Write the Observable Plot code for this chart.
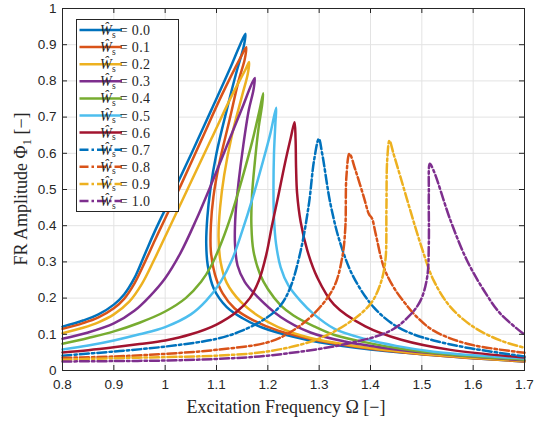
<!DOCTYPE html>
<html><head><meta charset="utf-8">
<script src="https://cdn.jsdelivr.net/npm/d3@7"></script>
<script src="https://cdn.jsdelivr.net/npm/@observablehq/plot@0.6"></script>
<style>
html,body{margin:0;padding:0;background:#fff;}
#chart{width:543px;height:422px;}
</style></head><body><div id="chart"></div>
<script>
const xTicks = [0.8,0.9,1.0,1.1,1.2,1.3,1.4,1.5,1.6,1.7];
const yTicks = [0,0.1,0.2,0.3,0.4,0.5,0.6,0.7,0.8,0.9,1.0];
const seriesLabels = ["0.0","0.1","0.2","0.3","0.4","0.5","0.6","0.7","0.8","0.9","1.0"];
const seriesColors = ["#0072BD","#D95319","#EDB120","#7E2F8E","#77AC30","#4DBEEE","#A2142F","#0072BD","#D95319","#EDB120","#7E2F8E"];
const seriesDashed = [false,false,false,false,false,false,false,true,true,true,true];

// [Omega, Phi1] points along each response curve, in path order
const ws00 = [[0.80,0.121],[0.84,0.138],[0.87,0.155],[0.90,0.182],[0.92,0.21],[0.94,0.255],[0.96,0.32],[0.98,0.385],[1.0,0.445],[1.025,0.52],[1.053,0.605],[1.09,0.72],[1.125,0.83],[1.146,0.9],[1.1565,0.930],[1.153,0.895],[1.14,0.83],[1.12,0.72],[1.10,0.60],[1.088,0.50],[1.082,0.42],[1.080,0.35],[1.083,0.29],[1.095,0.225],[1.12,0.175],[1.15,0.145],[1.19,0.118],[1.25,0.093],[1.30,0.078],[1.40,0.058],[1.50,0.045],[1.60,0.034],[1.70,0.025]];
const ws01 = [[0.80,0.115],[0.84,0.131],[0.87,0.147],[0.90,0.172],[0.92,0.198],[0.94,0.24],[0.96,0.298],[0.98,0.36],[1.0,0.42],[1.03,0.51],[1.07,0.635],[1.11,0.76],[1.147,0.865],[1.158,0.893],[1.155,0.86],[1.143,0.80],[1.125,0.69],[1.105,0.57],[1.094,0.48],[1.089,0.40],[1.089,0.33],[1.097,0.265],[1.112,0.213],[1.135,0.172],[1.17,0.14],[1.22,0.11],[1.30,0.082],[1.40,0.06],[1.50,0.045],[1.60,0.034],[1.70,0.025]];
const ws02 = [[0.80,0.103],[0.84,0.118],[0.87,0.133],[0.90,0.155],[0.93,0.19],[0.955,0.24],[0.98,0.31],[1.01,0.40],[1.05,0.52],[1.09,0.64],[1.13,0.76],[1.156,0.83],[1.1636,0.852],[1.161,0.82],[1.15,0.76],[1.13,0.65],[1.115,0.54],[1.107,0.45],[1.104,0.37],[1.108,0.30],[1.12,0.242],[1.147,0.19],[1.18,0.152],[1.22,0.12],[1.283,0.09],[1.40,0.062],[1.50,0.046],[1.60,0.035],[1.70,0.026]];
const ws03 = [[0.80,0.0875],[0.85,0.105],[0.90,0.13],[0.94,0.165],[0.97,0.205],[1.0,0.255],[1.03,0.325],[1.06,0.415],[1.09,0.515],[1.12,0.62],[1.15,0.725],[1.168,0.79],[1.1747,0.808],[1.172,0.775],[1.163,0.72],[1.152,0.62],[1.143,0.52],[1.137,0.43],[1.136,0.35],[1.141,0.29],[1.155,0.245],[1.179,0.205],[1.225,0.148],[1.283,0.105],[1.35,0.08],[1.45,0.058],[1.55,0.044],[1.70,0.028]];
const ws04 = [[0.80,0.074],[0.85,0.09],[0.90,0.108],[0.95,0.132],[1.0,0.163],[1.04,0.20],[1.07,0.245],[1.09,0.29],[1.11,0.355],[1.13,0.435],[1.15,0.53],[1.17,0.635],[1.184,0.72],[1.191,0.766],[1.189,0.735],[1.182,0.67],[1.175,0.58],[1.169,0.48],[1.168,0.40],[1.172,0.33],[1.185,0.265],[1.20,0.225],[1.225,0.18],[1.25,0.152],[1.29,0.122],[1.33,0.098],[1.40,0.075],[1.46,0.06],[1.55,0.045],[1.70,0.030]];
const ws05 = [[0.80,0.058],[0.85,0.069],[0.90,0.083],[0.95,0.10],[1.0,0.12],[1.05,0.155],[1.08,0.193],[1.108,0.245],[1.13,0.305],[1.15,0.385],[1.17,0.475],[1.19,0.575],[1.205,0.655],[1.2162,0.726],[1.2148,0.685],[1.212,0.60],[1.211,0.50],[1.212,0.42],[1.216,0.35],[1.225,0.285],[1.24,0.235],[1.263,0.193],[1.29,0.155],[1.33,0.115],[1.39,0.087],[1.45,0.068],[1.523,0.052],[1.60,0.042],[1.70,0.033]];
const ws06 = [[0.80,0.0497],[0.85,0.056],[0.90,0.064],[0.95,0.073],[1.0,0.083],[1.05,0.10],[1.10,0.127],[1.14,0.163],[1.165,0.20],[1.183,0.25],[1.197,0.32],[1.208,0.40],[1.22,0.48],[1.233,0.57],[1.245,0.645],[1.252,0.686],[1.254,0.64],[1.255,0.56],[1.257,0.49],[1.264,0.41],[1.277,0.331],[1.296,0.258],[1.329,0.182],[1.39,0.122],[1.46,0.085],[1.556,0.057],[1.70,0.036]];
const ws07 = [[0.80,0.041],[0.90,0.0525],[1.0,0.066],[1.1,0.0875],[1.15,0.11],[1.199,0.147],[1.225,0.18],[1.244,0.23],[1.264,0.331],[1.28,0.46],[1.29,0.58],[1.2994,0.64],[1.306,0.598],[1.322,0.46],[1.3415,0.35],[1.367,0.258],[1.406,0.175],[1.445,0.127],[1.48,0.102],[1.523,0.083],[1.588,0.063],[1.70,0.039]];
const ws08 = [[0.80,0.035],[0.90,0.0387],[1.0,0.046],[1.1,0.057],[1.2,0.078],[1.244,0.106],[1.29,0.157],[1.3286,0.23],[1.345,0.313],[1.351,0.396],[1.353,0.534],[1.359,0.599],[1.371,0.552],[1.387,0.479],[1.397,0.432],[1.403,0.42],[1.41,0.378],[1.426,0.285],[1.445,0.23],[1.465,0.19],[1.491,0.147],[1.523,0.11],[1.588,0.074],[1.70,0.049]];
const ws09 = [[0.80,0.030],[0.90,0.034],[1.0,0.037],[1.1,0.041],[1.199,0.0525],[1.29,0.083],[1.3545,0.129],[1.40,0.184],[1.4195,0.24],[1.429,0.304],[1.431,0.442],[1.4325,0.58],[1.437,0.635],[1.445,0.598],[1.4585,0.534],[1.478,0.44],[1.4974,0.35],[1.523,0.249],[1.556,0.175],[1.601,0.12],[1.653,0.083],[1.70,0.063]];
const ws10 = [[0.80,0.025],[0.90,0.026],[1.0,0.0276],[1.1,0.032],[1.2,0.041],[1.3545,0.074],[1.439,0.11],[1.475,0.15],[1.4974,0.193],[1.5104,0.258],[1.5136,0.35],[1.5136,0.488],[1.5156,0.571],[1.523,0.552],[1.556,0.414],[1.588,0.304],[1.621,0.221],[1.653,0.157],[1.70,0.099]];

const seriesData = [ws00,ws01,ws02,ws03,ws04,ws05,ws06,ws07,ws08,ws09,ws10];

const W = 543, H = 422;
const mL = 62, mR = 19, mT = 8, mB = 52;
const pw = W - mL - mR, ph = H - mT - mB;
const DASH = "9,3,2.5,3";
const LW = 2.5;
const fmt = d => String(+d.toFixed(1));
const axisColor = "#262626";

const lineMarks = seriesData.map((pts, i) => Plot.line(pts, {
  x: d => d[0], y: d => d[1],
  stroke: seriesColors[i], strokeWidth: LW,
  strokeDasharray: seriesDashed[i] ? DASH : null,
  curve: "catmull-rom", strokeLinejoin: "round"
}));

const chart = Plot.plot({
  width: W, height: H,
  marginLeft: mL, marginRight: mR, marginTop: mT, marginBottom: mB,
  x: {domain: [0.8, 1.7]},
  y: {domain: [0, 1]},
  style: {fontFamily: "'Liberation Sans', Arial, sans-serif", fontSize: "13.5px", color: axisColor, background: "#fff"},
  marks: [
    Plot.gridX(xTicks, {stroke: "#e3e3e3", strokeOpacity: 1}),
    Plot.gridY(yTicks, {stroke: "#e3e3e3", strokeOpacity: 1}),
    ...lineMarks,
    Plot.frame({stroke: axisColor, strokeWidth: 1}),
    Plot.tickX(xTicks, {x: d => d, insetTop: ph - 5, stroke: axisColor}),
    Plot.tickX(xTicks, {x: d => d, insetBottom: ph - 5, stroke: axisColor}),
    Plot.tickY(yTicks, {y: d => d, insetRight: pw - 5, stroke: axisColor}),
    Plot.tickY(yTicks, {y: d => d, insetLeft: pw - 5, stroke: axisColor}),
    Plot.axisX(xTicks, {tickSize: 0, tickPadding: 9, tickFormat: fmt, label: null, fill: axisColor}),
    Plot.axisY(yTicks, {tickSize: 0, tickPadding: 6, tickFormat: fmt, label: null, fill: axisColor})
  ]
});

document.getElementById("chart").appendChild(chart);

const svg = d3.select(chart);
const serif = "Liberation Serif, DejaVu Serif, serif";

// Axis titles
svg.append("text")
  .attr("x", 286).attr("y", 413)
  .attr("text-anchor", "middle")
  .style("font-family", serif).style("font-size", "18px").attr("fill", axisColor)
  .text("Excitation Frequency Ω [−]");

const yt = svg.append("text")
  .attr("transform", `translate(27,${mT + ph / 2}) rotate(-90)`)
  .attr("text-anchor", "middle")
  .style("font-family", serif).style("font-size", "18px").attr("fill", axisColor);
yt.append("tspan").text("FR Amplitude Φ");
yt.append("tspan").style("font-size", "12.5px").attr("dy", 3.5).text("1");
yt.append("tspan").attr("dy", -3.5).text("\u00A0[−]");

// Legend
const lg = svg.append("g");
const lx = 76, ly = 19, lw = 102, lh = 192;
lg.append("rect").attr("x", lx + 0.5).attr("y", ly + 0.5).attr("width", lw).attr("height", lh)
  .attr("fill", "#fff").attr("stroke", axisColor).attr("stroke-width", 1);
seriesLabels.forEach((lab, i) => {
  const yy = ly + 11 + i * 17.1;
  lg.append("line").attr("x1", lx + 3.5).attr("x2", lx + 46).attr("y1", yy).attr("y2", yy)
    .attr("stroke", seriesColors[i]).attr("stroke-width", LW)
    .attr("stroke-dasharray", seriesDashed[i] ? DASH : null);
  const t = lg.append("text").attr("x", lx + 49).attr("y", yy + 5)
    .attr("textLength", 50).attr("lengthAdjust", "spacing")
    .style("font-family", serif).style("font-size", "14px").attr("fill", axisColor);
  t.append("tspan").style("font-style", "italic").text("Ŵ");
  t.append("tspan").style("font-size", "9.5px").attr("dy", 2.5).text("s");
  t.append("tspan").attr("dy", -2.5).text("\u00A0=\u00A0" + lab);
});
</script>
</body></html>
